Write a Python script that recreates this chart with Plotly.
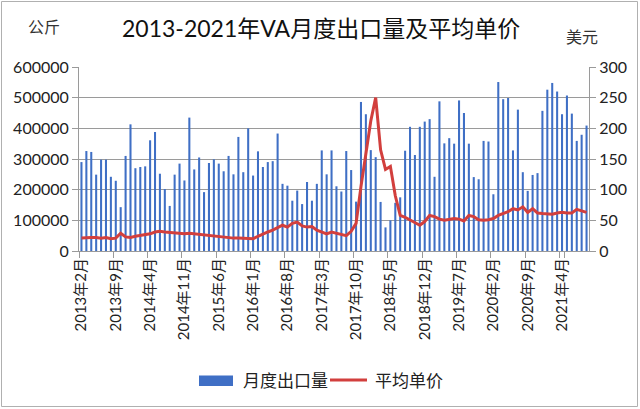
import plotly.graph_objects as go

# ---- data ----
start_year, start_month, n_months = 2013, 2, 104
months = []
y, m = start_year, start_month
for _ in range(n_months):
    months.append(f"{y}年{m}月")
    m += 1
    if m > 12:
        m = 1
        y += 1

volume = [290000, 326000, 323000, 249000, 298000, 298000, 242000, 229000, 143000, 310000,
          413000, 270000, 274000, 276000, 361000, 388000, 252000, 202000, 147000, 249000,
          285000, 230000, 435000, 266000, 305000, 192000, 287000, 299000, 285000, 260000,
          310000, 250000, 372000, 257000, 400000, 246000, 325000, 274000, 290000, 293000,
          383000, 219000, 213000, 164000, 197000, 153000, 225000, 164000, 219000, 328000,
          250000, 328000, 211000, 194000, 326000, 264000, 161000, 486000, 446000, 329000,
          306000, 160000, 77000, 100000, 157000, 175000, 327000, 405000, 313000, 405000,
          422000, 430000, 242000, 488000, 351000, 368000, 350000, 491000, 450000, 350000,
          241000, 234000, 359000, 357000, 185000, 551000, 495000, 499000, 328000, 461000,
          257000, 196000, 248000, 254000, 457000, 526000, 548000, 520000, 446000, 507000,
          448000, 359000, 379000, 409000]

price = [21, 22, 22, 22, 21, 22, 20, 21, 29, 23,
         22, 24, 25, 26, 28, 31, 32, 31, 30, 29,
         28, 28, 29, 28, 28, 27, 25, 24, 24, 23,
         22, 21, 21, 21, 20, 20, 24, 28, 31, 34,
         38, 42, 39, 45, 47, 41, 39, 40, 34, 31,
         28, 31, 29, 27, 25, 32, 45, 105, 160, 212,
         250, 165, 133, 138, 90, 58, 55, 51, 46, 42,
         48, 58, 56, 52, 50, 51, 53, 52, 49, 58,
         56, 51, 50, 51, 53, 58, 61, 64, 69, 67,
         72, 63, 69, 62, 61, 60, 60, 62, 63, 62,
         62, 68, 65, 63]

tick_labels = months[::7]
left_ticks = [0, 100000, 200000, 300000, 400000, 500000, 600000]
right_ticks = [0, 50, 100, 150, 200, 250, 300]

title_text = "2013-2021年VA月度出口量及平均单价"
vol_name = "月度出口量"
price_name = "平均单价"

BLUE = "#3F6FC5"
RED = "#D23F3D"
GRID = "#9A9A9A"
FONT = "Lato, 'Noto Sans CJK SC', sans-serif"

fig = go.Figure()
fig.add_trace(go.Bar(x=months, y=volume, name=vol_name, marker=dict(color=BLUE, line=dict(width=0)),
                     showlegend=False))
fig.add_trace(go.Scatter(x=months, y=price, name=price_name, mode="lines", yaxis="y2",
                         line=dict(color=RED, width=3), showlegend=False))

fig.update_layout(
    width=640, height=409,
    margin=dict(l=79, r=51, t=67, b=158),
    paper_bgcolor="white", plot_bgcolor="white",
    font=dict(family=FONT, size=15, color="#333333"),
    bargap=0.58,
    xaxis=dict(type="category", tickmode="array", tickvals=tick_labels, ticktext=tick_labels,
               tickson="boundaries", ticks="outside", ticklen=6, tickcolor=GRID,
               tickangle=-90, showline=True, linecolor=GRID, linewidth=1, showgrid=False,
               automargin=False,
               tickfont=dict(size=15, color="#222222"), range=[-0.5, n_months - 0.5]),
    yaxis=dict(range=[0, 600000], tickvals=left_ticks, tickformat="d", showgrid=True,
               gridcolor=GRID, gridwidth=1, showline=True, linecolor=GRID, ticks="outside",
               ticklen=6, tickcolor=GRID, zeroline=False, automargin=False,
               tickfont=dict(size=16, color="#222222")),
    yaxis2=dict(range=[0, 300], tickvals=right_ticks, overlaying="y", side="right",
                showgrid=False, showline=True, linecolor=GRID, ticks="outside", ticklen=6,
                tickcolor=GRID, zeroline=False, automargin=False,
                tickfont=dict(size=16, color="#222222")),
)

def px_x(p):
    return (p - 79) / 510.0

def px_y(p):
    return (251 - p) / 184.0

annots = [
    dict(text=title_text, x=px_x(321), y=px_y(28), font=dict(size=23, color="#111111")),
    dict(text="公斤", x=px_x(44), y=px_y(27), font=dict(size=16, color="#333333")),
    dict(text="美元", x=px_x(582), y=px_y(36), font=dict(size=16, color="#333333")),
    dict(text=vol_name, x=px_x(241), y=px_y(380), xanchor="left", font=dict(size=17, color="#222222")),
    dict(text=price_name, x=px_x(373), y=px_y(380), xanchor="left", font=dict(size=17, color="#222222")),
]
for a in annots:
    a.setdefault("xanchor", "center")
    fig.add_annotation(xref="paper", yref="paper", showarrow=False, yanchor="middle", **a)

fig.add_shape(type="rect", xref="paper", yref="paper", x0=px_x(199), x1=px_x(233),
              y0=px_y(386), y1=px_y(375.5), fillcolor=BLUE, line=dict(width=0))
fig.add_shape(type="line", xref="paper", yref="paper", x0=px_x(330), x1=px_x(367),
              y0=px_y(380), y1=px_y(380), line=dict(color=RED, width=3))
fig.add_shape(type="rect", xref="paper", yref="paper", x0=px_x(1.5), x1=px_x(637.5),
              y0=px_y(406.5), y1=px_y(1.5), line=dict(color="#B0B0B0", width=1))

fig.write_html("out.html", config={"displayModeBar": False},
               post_script="document.body.style.margin='0';document.body.style.overflow='hidden';")
